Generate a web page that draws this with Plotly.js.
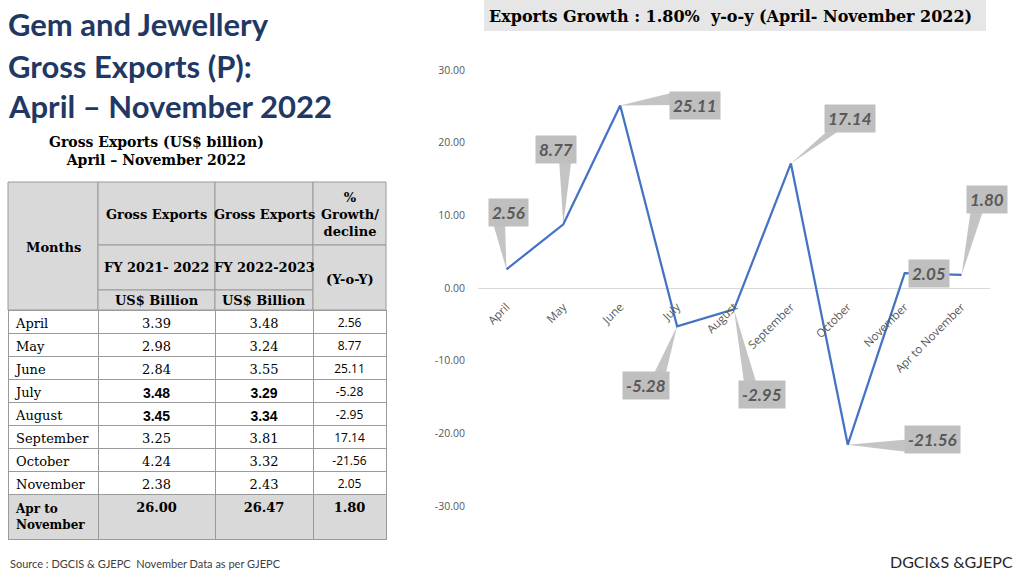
<!DOCTYPE html>
<html><head><meta charset="utf-8">
<script src="https://cdn.plot.ly/plotly-3.0.1.min.js"></script>
<style>html,body{margin:0;padding:0;background:#fff}#chart{width:1024px;height:576px}</style>
</head><body><div id="chart"></div>
<script>
// ---------------- data ----------------
const months = ['April','May','June','July','August','September','October','November'];
const exports2122 = [3.39,2.98,2.84,3.48,3.45,3.25,4.24,2.38];
const exports2223 = [3.48,3.24,3.55,3.29,3.34,3.81,3.32,2.43];
const growth = [2.56,8.77,25.11,-5.28,-2.95,17.14,-21.56,2.05];
const totalLabel = 'Apr to November';
const total2122 = 26.00;
const total2223 = 26.47;
const totalGrowth = 1.80;
const boldMonths = ['July','August'];
const headerTop = ['Gross Exports','Gross Exports','%<br>Growth/<br>decline'];
const headerMid = ['FY 2021- 2022','FY 2022-2023','(Y-o-Y)'];
const headerUnit = ['US$ Billion','US$ Billion'];
const headerMonths = 'Months';
const yTicks = [-30,-20,-10,0,10,20,30];
const chartTitle = 'Exports Growth : 1.80%  y-o-y (April- November 2022)';
const pageTitle = ['Gem and Jewellery','Gross Exports (P):','April \u2013 November 2022'];
const subTitle = 'Gross Exports (US$ billion)<br>April \u2013 November 2022';
const sourceText = 'Source : DGCIS & GJEPC  November Data as per GJEPC';
const brandText = 'DGCI&S &GJEPC';

// ---------------- layout helpers ----------------
const W = 1024, H = 576;
const PX = x => x / W;
const PY = y => 1 - y / H;
const SERIF = 'DejaVu Serif';
const SANS = 'Lato';

const cats = months.concat([totalLabel]);
const vals = growth.concat([totalGrowth]);

// callout layout (pixel offsets from each point, screen direction):
// box centre, wedge base centre, and which box edge the wedge meets ('h' top/bottom, 'v' left/right)
const calloutBox = [[2,-57],[-7,-75],[75,0],[-31,59],[28,85],[59,-45],[85,-5],[24,0],[25,-75]];
const wedgeBase  = [[-8,-44,'h'],[2,-62,'h'],[49,-7,'v'],[-19,46,'h'],[17,71,'h'],[48,-31,'h'],[56,1,'v'],null,[16,-61,'h']];

const shapes = [];
const annotations = [];

// chart title band
shapes.push({type:'rect', xref:'paper', yref:'paper', x0:PX(484), x1:PX(986), y0:PY(31), y1:PY(0),
  fillcolor:'#E7E6E6', line:{width:0}, layer:'below'});
annotations.push({xref:'paper', yref:'paper', x:PX(730), y:PY(16), text:'<b>'+chartTitle+'</b>',
  showarrow:false, xanchor:'center', yanchor:'middle', font:{family:SERIF, size:16, color:'#000'}});

// page title
const titleY = [24, 66, 106];
pageTitle.forEach((t,i)=>annotations.push({xref:'paper', yref:'paper', x:PX(6), y:PY(titleY[i]),
  text:'<b>'+t+'</b>', showarrow:false, xanchor:'left', yanchor:'middle',
  font:{family:SANS, size:31, color:'#1F3864'}}));
annotations.push({xref:'paper', yref:'paper', x:PX(156), y:PY(151), text:'<b>'+subTitle+'</b>',
  showarrow:false, xanchor:'center', yanchor:'middle', font:{family:SERIF, size:14, color:'#000'}});

// callouts
cats.forEach((c,i)=>{
  const [dx,dy] = calloutBox[i];
  const wb = wedgeBase[i];
  if (wb) {
    const [bx,by,edge] = wb, hw = 6.5, ext = 6;
    let p1, p2;
    if (edge === 'h') {
      const sy = by + Math.sign(by)*ext;           // push base into the box
      p1 = [bx-hw, -sy]; p2 = [bx+hw, -sy];
    } else {
      const sx = bx + Math.sign(bx)*ext;
      p1 = [sx, -(by-hw)]; p2 = [sx, -(by+hw)];
    }
    shapes.push({type:'path', xref:'x', yref:'y', xsizemode:'pixel', ysizemode:'pixel',
      xanchor:i, yanchor:vals[i], layer:'below',
      path:`M0,0 L${p1[0]},${p1[1]} L${p2[0]},${p2[1]} Z`,
      fillcolor:'#C4C4C4', line:{width:0}});
  }
  annotations.push({xref:'x', yref:'y', x:c, y:vals[i], xshift:dx, yshift:-dy, showarrow:false,
    text:'<b><i>'+vals[i].toFixed(2)+'</i></b>', bgcolor:'#BFBFBF', borderpad:3,
    font:{family:SANS, size:17, color:'#595959'}});
});

// table header (merged cells)
const cx = [8, 98, 215, 313, 386];
const rowY = [182, 245, 290, 310];
const hdrFill = '#D9D9D9', hdrLine = '#9A9A9A';
function cell(x0,x1,y0,y1){
  shapes.push({type:'rect', xref:'paper', yref:'paper', x0:PX(x0), x1:PX(x1), y0:PY(y1), y1:PY(y0),
    fillcolor:hdrFill, line:{color:hdrLine, width:1}, layer:'below'});
}
function htext(t,x,y,size){
  annotations.push({xref:'paper', yref:'paper', x:PX(x), y:PY(y), text:'<b>'+t+'</b>', showarrow:false,
    xanchor:'center', yanchor:'middle', font:{family:SERIF, size:size||13, color:'#000'}});
}
cell(cx[0],cx[1],rowY[0],rowY[3]); htext(headerMonths,(cx[0]+cx[1])/2,247);
for (let k=0;k<3;k++){
  cell(cx[k+1],cx[k+2],rowY[0],rowY[1]);
  htext(headerTop[k],(cx[k+1]+cx[k+2])/2,214);
}
for (let k=0;k<2;k++){
  cell(cx[k+1],cx[k+2],rowY[1],rowY[2]); htext(headerMid[k],(cx[k+1]+cx[k+2])/2,267);
  cell(cx[k+1],cx[k+2],rowY[2],rowY[3]); htext(headerUnit[k],(cx[k+1]+cx[k+2])/2,300);
}
cell(cx[3],cx[4],rowY[1],rowY[3]); htext(headerMid[2],(cx[3]+cx[4])/2,279);

// footer texts
annotations.push({xref:'paper', yref:'paper', x:PX(8), y:PY(563), text:sourceText, showarrow:false,
  xanchor:'left', yanchor:'middle', font:{family:SANS, size:11, color:'#404040'}});
annotations.push({xref:'paper', yref:'paper', x:PX(1015), y:PY(561), text:brandText, showarrow:false,
  xanchor:'right', yanchor:'middle', font:{family:SANS, size:16, color:'#262626'}});

// table body
const col1 = months.concat([totalLabel.replace(' to ',' to<br>')]);
const col2 = exports2122.map(v=>v.toFixed(2)).concat([total2122.toFixed(2)]);
const col3 = exports2223.map(v=>v.toFixed(2)).concat([total2223.toFixed(2)]);
const col4 = growth.map(v=>v.toFixed(2)).concat([totalGrowth.toFixed(2)]);
const rowFill = months.map(()=> '#FFFFFF').concat([hdrFill]);
const isBoldNum = months.map(m=>boldMonths.includes(m));
const weightCol = months.map(()=> 'normal').concat(['bold']);
const weightNum = isBoldNum.map(b=> b ? 'bold' : 'normal').concat(['bold']);
const famNum = isBoldNum.map(b=> b ? 'Liberation Sans' : SERIF).concat([SERIF]);
const famGrowth = months.map(()=> 'Open Sans').concat([SERIF]);
const sizeCol1 = months.map(()=>13).concat([12]);
const sizeNum = isBoldNum.map(b=> b ? 14 : 13).concat([13]);
const sizeGrowth = months.map(()=>12).concat([13]);

const traces = [
  {type:'scatter', mode:'lines', x:cats, y:vals, line:{color:'#4472C4', width:2.25},
   hoverinfo:'skip', cliponaxis:false},
  {type:'table', domain:{x:[PX(8),PX(386)], y:[0.0, PY(294)]},
   columnwidth:[90,117,98,73],
   header:{values:[], height:1, font:{size:1}, line:{width:0}, fill:{color:'rgba(0,0,0,0)'}},
   cells:{values:[col1,col2,col3,col4], height:23,
     align:['left','center','center','center'],
     fill:{color:[rowFill,rowFill,rowFill,rowFill]},
     line:{color:hdrLine, width:1},
     font:{family:[[SERIF],famNum,famNum,famGrowth], size:[sizeCol1,sizeNum,sizeNum,sizeGrowth],
           weight:[weightCol,weightNum,weightNum,weightCol], color:'#000'}}}
];

const layout = {
  width:W, height:H, margin:{l:0,r:0,t:0,b:0}, paper_bgcolor:'#fff', plot_bgcolor:'rgba(0,0,0,0)',
  showlegend:false,
  xaxis:{type:'category', domain:[PX(478),PX(990)], range:[-0.5,8.5], anchor:'free', position:PY(289),
    showgrid:false, zeroline:false, showline:false, ticks:'', tickangle:-45, ticklabelstandoff:8,
    tickfont:{family:'Open Sans', size:11.5, color:'#595959'}, fixedrange:true},
  yaxis:{domain:[PY(506),PY(70)], range:[-30,30], tickvals:yTicks, ticktext:yTicks.map(v=>v.toFixed(2)),
    showgrid:false, zeroline:true, zerolinecolor:'#D9D9D9', zerolinewidth:1, showline:false, ticks:'',
    ticklabelstandoff:12, tickfont:{family:'Open Sans', size:10.5, color:'#595959'}, fixedrange:true},
  shapes:shapes, annotations:annotations
};
Plotly.newPlot('chart', traces, layout, {displayModeBar:false, staticPlot:true});
</script></body></html>
